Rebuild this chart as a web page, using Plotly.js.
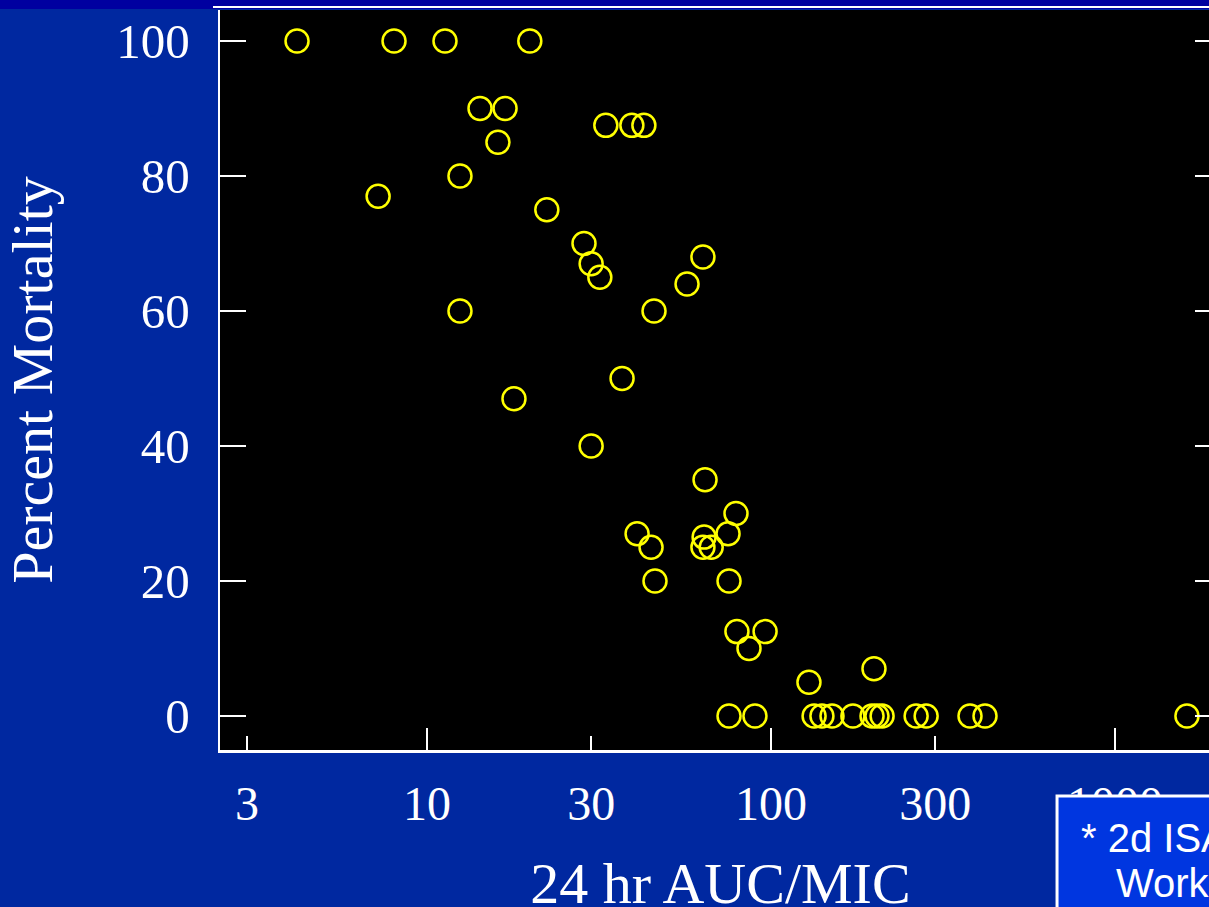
<!DOCTYPE html>
<html>
<head>
<meta charset="utf-8">
<script src="https://cdn.plot.ly/plotly-3.0.1.min.js"></script>
<style>
html, body { margin: 0; padding: 0; overflow: hidden; background: #0028a0; }
#chart { width: 1221px; height: 930px; }
</style>
</head>
<body>
<div id="chart"></div>
<script>
// 24 hr AUC/MIC (x) vs Percent Mortality (y)
const aucMic = [
  4.19, 8.02, 11.28, 19.9,
  14.26, 16.86,
  33.1, 39.4, 42.7,
  16.08,
  12.47,
  7.21,
  22.3,
  28.6, 30.0, 31.8,
  63.4,
  57.0,
  12.47, 45.7,
  36.9,
  17.9,
  30.0,
  64.3,
  79.1,
  40.8, 75.0,
  44.8,
  63.9, 63.4, 67.0,
  46.0, 75.5,
  79.6, 96.1,
  86.3,
  128.9,
  199.2,
  75.5, 89.8, 133.4, 140.6, 150.4, 173.0, 196.6, 203.2, 210.3, 264.1, 282.4, 378.8, 418.8, 1618
];
const mortality = [
  100, 100, 100, 100,
  90, 90,
  87.5, 87.5, 87.5,
  85,
  80,
  77,
  75,
  70, 67, 65,
  68,
  64,
  60, 60,
  50,
  47,
  40,
  35,
  30,
  27, 27,
  25,
  26.5, 25, 25,
  20, 20,
  12.5, 12.5,
  10,
  5,
  7,
  0, 0, 0, 0, 0, 0, 0, 0, 0, 0, 0, 0, 0, 0
];
const xTickVals = [3, 10, 30, 100, 300, 1000];
const xTickText = ["3", "10", "30", "100", "300", "1000"];
const xMajorVals = [10, 100, 1000];
const yTickVals = [0, 20, 40, 60, 80, 100];

const serif = "Liberation Serif, Times New Roman, serif";

const trace = {
  x: aucMic,
  y: mortality,
  type: "scatter",
  mode: "markers",
  marker: {
    symbol: "circle-open",
    size: 23,
    color: "#ffff00",
    line: { color: "#ffff00", width: 2.5 }
  },
  hoverinfo: "x+y",
  showlegend: false
};

// invisible trace to activate overlay axis for longer major ticks
const traceMajor = {
  x: [10], y: [50], xaxis: "x2", type: "scatter", mode: "markers",
  marker: { opacity: 0 }, hoverinfo: "skip", showlegend: false
};

const xr = [0.3983, 3.308];

const layout = {
  width: 1221,
  height: 930,
  margin: { l: 220, r: 0, t: 10, b: 180 },
  paper_bgcolor: "#0028a0",
  plot_bgcolor: "#000000",
  font: { family: serif, color: "#ffffff", size: 48 },
  xaxis: {
    type: "log",
    range: xr,
    tickvals: xTickVals,
    ticktext: xTickText,
    ticks: "inside",
    ticklen: 14,
    tickwidth: 2.5,
    tickcolor: "#ffffff",
    ticklabelstandoff: 10,
    showline: true,
    linecolor: "#ffffff",
    linewidth: 2.5,
    showgrid: false,
    zeroline: false,
    tickfont: { family: serif, size: 48, color: "#ffffff" },
    title: { text: "24 hr AUC/MIC", font: { family: serif, size: 58, color: "#ffffff" }, standoff: 34 }
  },
  xaxis2: {
    type: "log",
    range: xr,
    overlaying: "x",
    anchor: "y",
    side: "bottom",
    tickvals: xMajorVals,
    showticklabels: false,
    ticks: "inside",
    ticklen: 22,
    tickwidth: 2.5,
    tickcolor: "#ffffff",
    showline: false,
    showgrid: false,
    zeroline: false
  },
  yaxis: {
    range: [-5.04, 104.59],
    tickvals: yTickVals,
    ticks: "inside",
    ticklen: 26,
    tickwidth: 2.5,
    tickcolor: "#ffffff",
    ticklabelstandoff: 18,
    mirror: "ticks",
    showline: true,
    linecolor: "#ffffff",
    linewidth: 2.5,
    showgrid: false,
    zeroline: false,
    tickfont: { family: serif, size: 49, color: "#ffffff" },
    title: { text: "Percent Mortality", font: { family: serif, size: 58, color: "#ffffff" }, standoff: 46 }
  },
  shapes: [
    { type: "rect", xref: "paper", yref: "paper", x0: -0.23, x1: 1.01, y0: 1.0012, y1: 1.02,
      fillcolor: "#0000a0", line: { width: 0 }, layer: "above" },
    { type: "line", xref: "paper", yref: "paper", x0: -0.007, x1: 1.01, y0: 1.0041, y1: 1.0041,
      line: { color: "#ffffff", width: 2 }, layer: "above" },
    { type: "rect", xref: "paper", yref: "paper", x0: 0.8362, x1: 1.05, y0: -0.0622, y1: -0.3,
      fillcolor: "#0036e0", line: { color: "#ffffff", width: 3 }, layer: "above" }
  ],
  annotations: [
    { xref: "paper", yref: "paper", x: 0.8581, y: -0.1193, xanchor: "left", yanchor: "middle",
      text: "* 2d ISAP PK/PD", showarrow: false,
      font: { family: "Liberation Sans, Arial, sans-serif", size: 40, color: "#ffffff" } },
    { xref: "paper", yref: "paper", x: 0.8931, y: -0.1804, xanchor: "left", yanchor: "middle",
      text: "Workshop", showarrow: false,
      font: { family: "Liberation Sans, Arial, sans-serif", size: 40, color: "#ffffff" } }
  ]
};

Plotly.newPlot("chart", [trace, traceMajor], layout, { displayModeBar: false, staticPlot: true });
</script>
</body>
</html>
